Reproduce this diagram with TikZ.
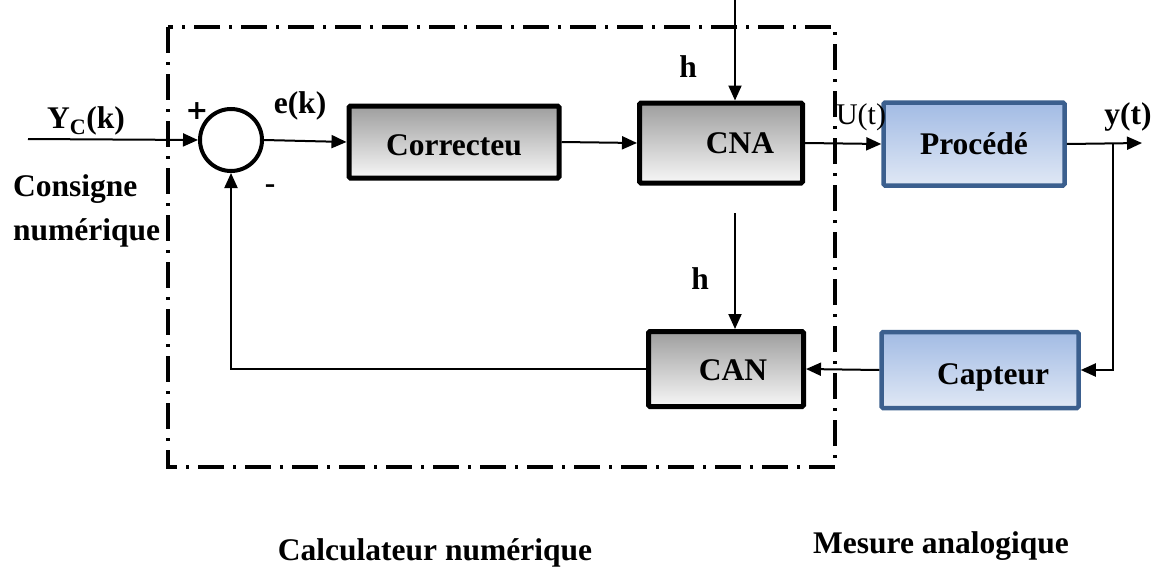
\documentclass[tikz,border=0pt]{standalone}
\usepackage{fontspec}
\setmainfont{Liberation Serif}
\newfontfamily\signfont{DejaVu Sans}
\usetikzlibrary{arrows.meta}
\definecolor{blueedge}{HTML}{3B5F8E}
\definecolor{bluetop}{HTML}{A2BBE4}
\definecolor{bluebot}{HTML}{E0E8F5}
\definecolor{graytop}{HTML}{9E9E9E}
\definecolor{graybot}{HTML}{F7F7F7}
\tikzset{
  x=1pt, y=-1pt,
  txt/.style={font=\fontsize{31.5}{36}\selectfont\bfseries, inner sep=0pt, anchor=base},
  boxtext/.style={inner sep=0pt, text height=21pt, text depth=0pt,
    font=\fontsize{31.5}{36}\selectfont\bfseries},
  graybox/.style={boxtext, draw=black, line width=5pt, rounded corners=1.5pt,
    top color=graytop, bottom color=graybot},
  bluebox/.style={boxtext, draw=blueedge, line width=4.5pt, rounded corners=1.5pt,
    top color=bluetop, bottom color=bluebot},
  sumnode/.style={circle, draw=black, line width=4pt, minimum size=62pt, inner sep=0pt},
  arr/.style={line width=2pt, -{Triangle[length=15pt,width=13pt]}},
  frame/.style={line width=4pt, dash pattern=on 26pt off 9pt on 3pt off 9pt}
}
\begin{document}
\begin{tikzpicture}
\useasboundingbox (0,0) rectangle (1161,570);

% digital computer boundary
\draw[frame] (168,27) rectangle (835,467);

% blocks
\node[sumnode] (sum) at (231,140) {};
\node[graybox, minimum width=210pt, minimum height=72pt] (corr) at (454,142) {\raisebox{-3pt}{Correcteu}};
\node[graybox, minimum width=163pt, minimum height=80pt] (cna) at (721,143) {\hspace*{38pt}CNA};
\node[bluebox, minimum width=181pt, minimum height=83pt] (proc) at (974,144) {Procédé};
\node[graybox, minimum width=155pt, minimum height=75pt] (can) at (726,369) {\hspace*{14pt}\raisebox{-1pt}{CAN}};
\node[bluebox, minimum width=197pt, minimum height=76pt] (capt) at (980,370) {\hspace*{26pt}\raisebox{-4pt}{Capteur}};

% free ends
\coordinate (in) at (28,139);
\coordinate (out) at (1142,143);
\coordinate (br) at (1113,143);
\coordinate (h1) at (735,0);
\coordinate (h2) at (735,213);

% connectors
\draw[arr] (in) -- (sum.west);
\draw[arr] (sum.east) -- (corr.west);
\draw[arr] (corr.east) -- (cna.west);
\draw[arr] (cna.east) -- (proc.west);
\draw[arr] (proc.east) -- (out);
\draw[arr] (br) |- (capt.east);
\draw[arr] (capt.west) -- (can.east);
\draw[arr] (can.west) -| (sum.south);
\draw[arr] (h1) -- (h1 |- cna.north);
\draw[arr] (h2) -- (h2 |- can.north);

% labels
\node[txt, font=\signfont\bfseries\fontsize{27}{30}\selectfont] (lplus) at (197,119) {+};
\node[txt] (lyc) at (86,128) {Y\textsubscript{C}(k)};
\node[txt] (lek) at (300,113) {e(k)};
\node[txt] (lminus) at (270,193) {-};
\node[txt, anchor=base west] (lcons) at (13,196) {Consigne};
\node[txt, anchor=base west] (lnum) at (13,240) {numérique};
\node[txt, font=\fontsize{30}{36}\selectfont] (lu) at (861,124) {U(t)};
\node[txt] (ly) at (1128,124) {y(t)};
\node[txt] (lh1) at (688,77) {h};
\node[txt] (lh2) at (700,289) {h};
\node[txt] (lcalc) at (435,560) {Calculateur numérique};
\node[txt] (lmes) at (941,553) {Mesure analogique};
\end{tikzpicture}
\end{document}
